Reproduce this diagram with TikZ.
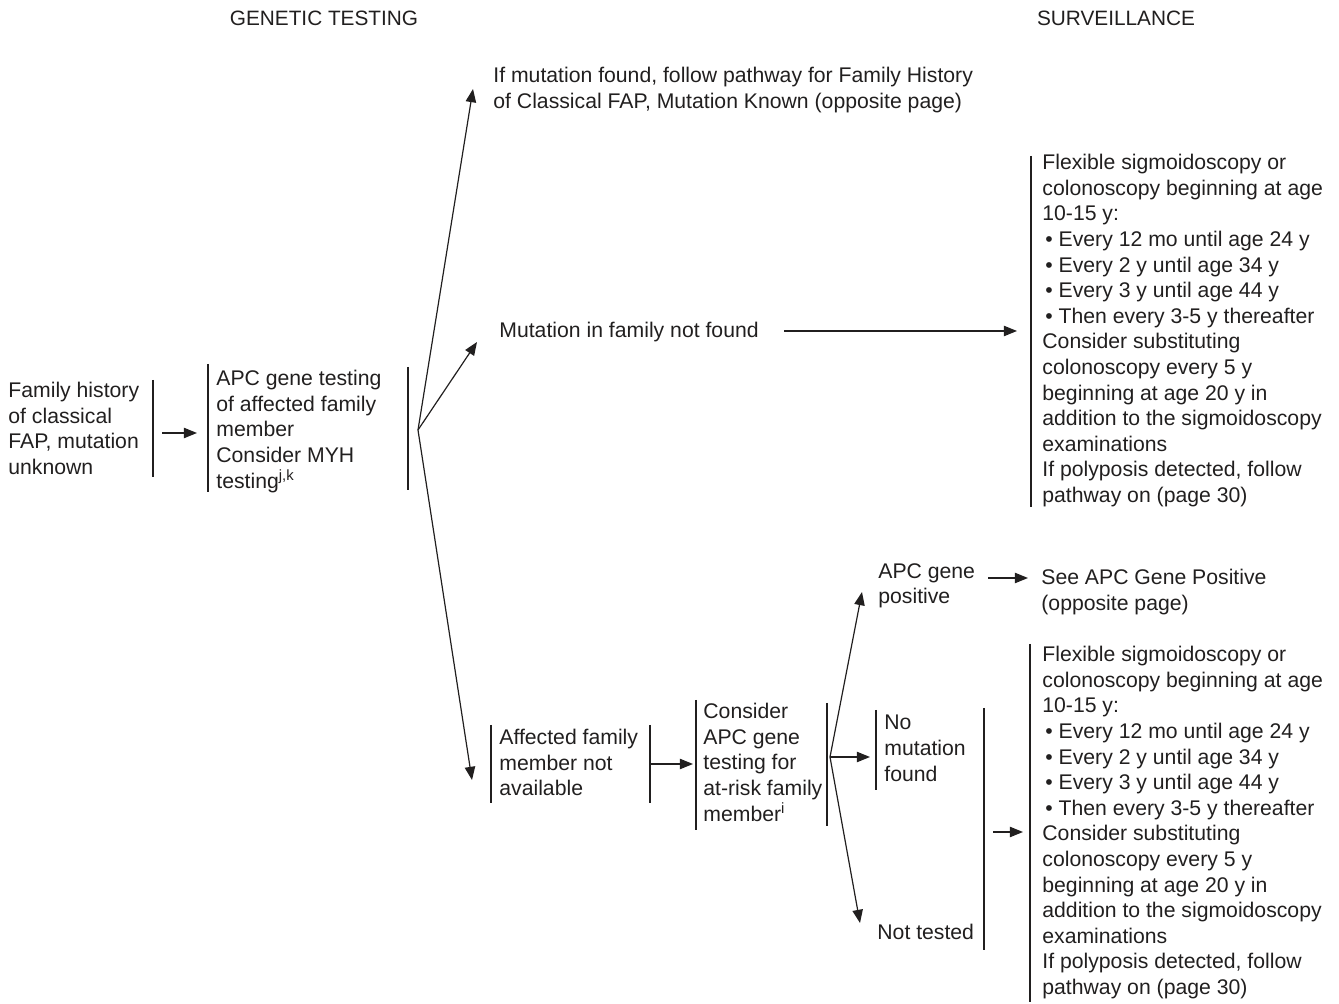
\documentclass[tikz,border=0pt]{standalone}
\usepackage{fontspec}
\setmainfont{Liberation Sans}
\usetikzlibrary{arrows.meta}
\definecolor{ink}{rgb}{0.13,0.12,0.12}
\newcommand{\itembul}{\hspace{1.5pt}\textbullet\ }
\begin{document}
\begin{tikzpicture}[x=0.5pt,y=-0.5pt,
  every node/.style={text=ink},
  txt/.style={anchor=north west, inner sep=0pt, align=left,
              font=\fontsize{10.6}{12.8}\selectfont},
  head/.style={inner sep=0pt, font=\fontsize{10.4}{12.8}\selectfont},
  bar/.style={draw=ink, line width=0.65pt},
  arr/.style={draw=ink, line width=0.6pt, -{Triangle[length=6.6pt,width=5.2pt]}}]
\useasboundingbox (0,0) rectangle (1339,1004);

% column headings
\node[head] (hgen) at (324,18) {GENETIC TESTING};
\node[head] (hsur) at (1116,18) {SURVEILLANCE};

% text blocks
\node[txt] (fam) at (8,382) {Family history\\of classical\\FAP, mutation\\unknown};
\node[txt] (apc) at (216,370) {APC gene testing\\of affected family\\member\\Consider MYH\\testing\textsuperscript{j,k}};
\node[txt] (found) at (493,67) {If mutation found, follow pathway for Family History\\of Classical FAP, Mutation Known (opposite page)};
\node[txt] (notfound) at (499,322) {Mutation in family not found};
\node[txt] (surv1) at (1042,154) {Flexible sigmoidoscopy or\\colonoscopy beginning at age\\10-15 y:\\
  \itembul Every 12 mo until age 24 y\\\itembul Every 2 y until age 34 y\\
  \itembul Every 3 y until age 44 y\\\itembul Then every 3-5 y thereafter\\
  Consider substituting\\colonoscopy every 5 y\\beginning at age 20 y in\\
  addition to the sigmoidoscopy\\examinations\\If polyposis detected, follow\\pathway on (page 30)};
\node[txt] (aff) at (499,729) {Affected family\\member not\\available};
\node[txt] (cons) at (703,703) {Consider\\APC gene\\testing for\\at-risk family\\member\textsuperscript{i}};
\node[txt] (pos) at (878,563) {APC gene\\positive};
\node[txt] (see) at (1041,569) {See APC Gene Positive\\(opposite page)};
\node[txt] (nomut) at (884,715) {No\\mutation\\found};
\node[txt] (nottested) at (877,924) {Not tested};
\node[txt] (surv2) at (1042,646) {Flexible sigmoidoscopy or\\colonoscopy beginning at age\\10-15 y:\\
  \itembul Every 12 mo until age 24 y\\\itembul Every 2 y until age 34 y\\
  \itembul Every 3 y until age 44 y\\\itembul Then every 3-5 y thereafter\\
  Consider substituting\\colonoscopy every 5 y\\beginning at age 20 y in\\
  addition to the sigmoidoscopy\\examinations\\If polyposis detected, follow\\pathway on (page 30)};

% bracket bars beside the blocks
\draw[bar] (153,380) -- (153,477);
\draw[bar] (208,364) -- (208,492);
\draw[bar] (408,367) -- (408,490);
\draw[bar] (1031,156) -- (1031,507);
\draw[bar] (491,725) -- (491,803);
\draw[bar] (650,725) -- (650,803);
\draw[bar] (696,700) -- (696,830);
\draw[bar] (827,703) -- (827,826);
\draw[bar] (876,710) -- (876,790);
\draw[bar] (984,708) -- (984,950);
\draw[bar] (1030,644) -- (1030,1002);

% connector end points
\coordinate (famout) at (162,433);
\coordinate (apcin) at (197,433);
\coordinate (v1) at (418,430);
\coordinate (foundin) at (473,89);
\coordinate (notfoundin) at (477,342);
\coordinate (affin) at (472,780);
\coordinate (notfoundout) at (784,331);
\coordinate (surv1in) at (1017,331);
\coordinate (affout) at (650,764);
\coordinate (consin) at (693,764);
\coordinate (v2) at (830,757);
\coordinate (posin) at (862,592);
\coordinate (nomutin) at (870,757);
\coordinate (nottestedin) at (860,923);
\coordinate (posout) at (988,578);
\coordinate (seein) at (1028,578);
\coordinate (groupout) at (993,832);
\coordinate (surv2in) at (1023,832);

% connectors
\draw[arr] (famout) -- (apcin);
\draw[arr] (v1) -- (foundin);
\draw[arr] (v1) -- (notfoundin);
\draw[arr] (v1) -- (affin);
\draw[arr] (notfoundout) -- (surv1in);
\draw[arr] (affout) -- (consin);
\draw[arr] (v2) -- (posin);
\draw[arr] (v2) -- (nomutin);
\draw[arr] (v2) -- (nottestedin);
\draw[arr] (posout) -- (seein);
\draw[arr] (groupout) -- (surv2in);
\end{tikzpicture}
\end{document}
